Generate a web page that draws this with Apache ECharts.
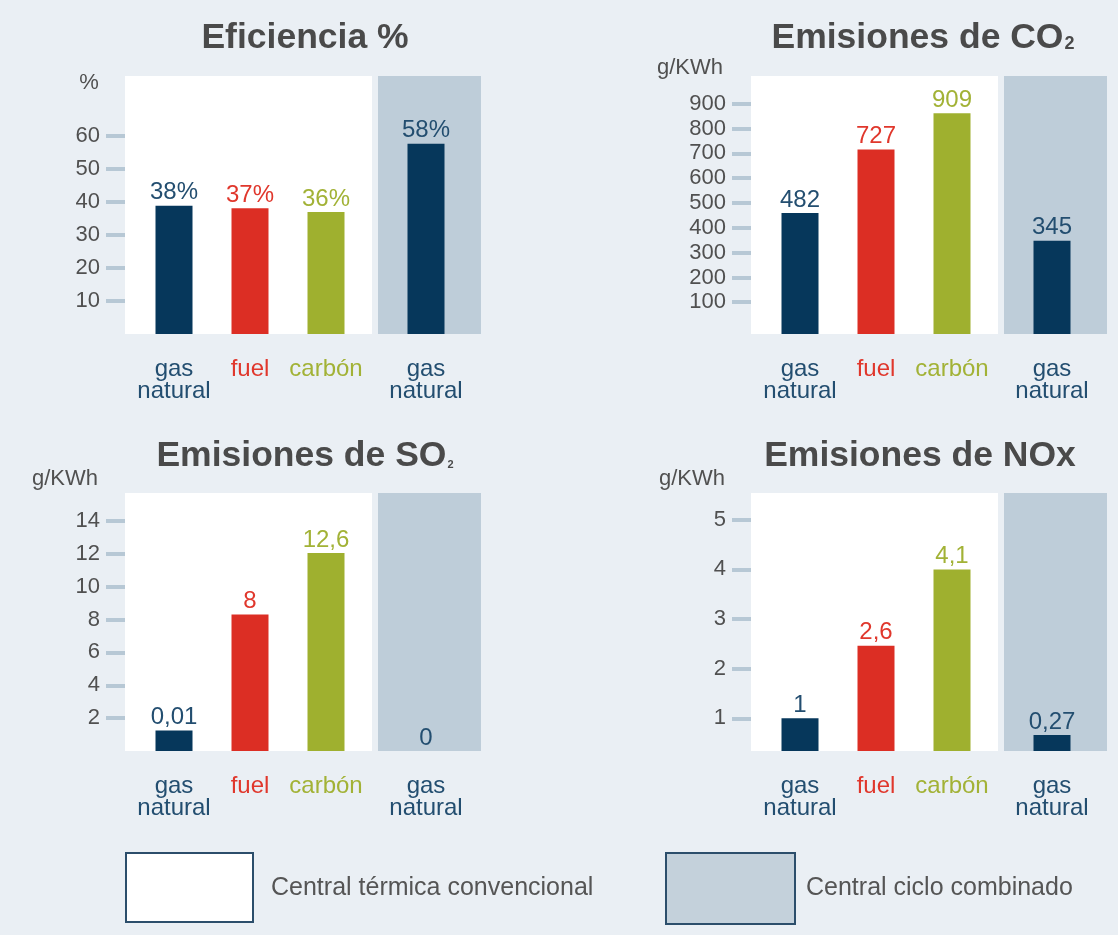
<!DOCTYPE html>
<html>
<head>
<meta charset="utf-8">
<script src="https://cdn.jsdelivr.net/npm/echarts@6/dist/echarts.min.js"></script>
<style>
html,body{margin:0;padding:0;background:#eaeff4;}
#chart{width:1118px;height:935px;}
</style>
</head>
<body>
<div id="chart"></div>
<script>
// ---- data ----
const categories = ['gas\nnatural', 'fuel', 'carbón'];
const combinedCategories = ['gas\nnatural'];

const efficiencyConventional = [38.8, 38.0, 36.9];
const efficiencyCombined = [57.5];
const efficiencyLabels = ['38%', '37%', '36%'];
const efficiencyCombinedLabels = ['58%'];
const efficiencyTicks = [10, 20, 30, 40, 50, 60];

const co2Conventional = [460, 716, 862];
const co2Combined = [348];
const co2Labels = ['482', '727', '909'];
const co2CombinedLabels = ['345'];
const co2Ticks = [100, 200, 300, 400, 500, 600, 700, 800, 900];

const so2Conventional = [1.25, 8.3, 12.05];
const so2Combined = [0];
const so2Labels = ['0,01', '8', '12,6'];
const so2CombinedLabels = ['0'];
const so2Ticks = [2, 4, 6, 8, 10, 12, 14];

const noxConventional = [1.0, 2.46, 4.0];
const noxCombined = [0.66];
const noxLabels = ['1', '2,6', '4,1'];
const noxCombinedLabels = ['0,27'];
const noxTicks = [1, 2, 3, 4, 5];

const legendNames = ['Central térmica convencional', 'Central ciclo combinado'];

// ---- styles ----
const FONT = '"Liberation Sans", Arial, Helvetica, sans-serif';
const barColors = ['#06375b', '#dc2e24', '#9fb02f'];
const textColors = ['#234e70', '#e0372c', '#a2b236'];
const combinedBarColor = '#06375b';
const combinedTextColor = '#234e70';
const greyArea = '#becdd9';

const panels = [
  { conv: efficiencyConventional, comb: efficiencyCombined, labels: efficiencyLabels, combLabels: efficiencyCombinedLabels, ticks: efficiencyTicks, min: 0, max: 78, dx: 0, top: 76 },
  { conv: co2Conventional, comb: co2Combined, labels: co2Labels, combLabels: co2CombinedLabels, ticks: co2Ticks, min: -28, max: 1012, startValue: -28, dx: 626, top: 76 },
  { conv: so2Conventional, comb: so2Combined, labels: so2Labels, combLabels: so2CombinedLabels, ticks: so2Ticks, min: 0, max: 15.7, dx: 0, top: 493 },
  { conv: noxConventional, comb: noxCombined, labels: noxLabels, combLabels: noxCombinedLabels, ticks: noxTicks, min: 0.34, max: 5.54, dx: 626, top: 493 }
];

const grid = [], xAxis = [], yAxis = [], series = [];
const H = 258;

function catColor(value) {
  const i = categories.indexOf(value);
  return i >= 0 ? textColors[i] : combinedTextColor;
}

panels.forEach(function (p) {
  const g0 = grid.length;
  // white background (conventional)
  grid.push({ left: 125 + p.dx, top: p.top, width: 247, height: H, show: true, backgroundColor: '#ffffff', borderWidth: 0 });
  // grey background (combined)
  grid.push({ left: 378 + p.dx, top: p.top, width: 103, height: H, show: true, backgroundColor: greyArea, borderWidth: 0 });
  // data grid conventional
  grid.push({ left: 136 + p.dx, top: p.top, width: 228, height: H, show: false });
  // data grid combined
  grid.push({ left: 388 + p.dx, top: p.top, width: 76, height: H, show: false });

  // axes for background white grid: visible y ticks
  xAxis.push({ gridIndex: g0, type: 'value', show: false });
  yAxis.push({
    gridIndex: g0, type: 'value', min: p.min, max: p.max, position: 'left',
    axisLine: { show: false }, splitLine: { show: false },
    axisTick: { show: true, inside: false, length: 19, customValues: p.ticks, lineStyle: { color: '#b7c8d5', width: 4 } },
    axisLabel: { show: true, customValues: p.ticks, margin: 25, color: '#505050', fontSize: 22, fontFamily: FONT }
  });
  // grey grid axes hidden
  xAxis.push({ gridIndex: g0 + 1, type: 'value', show: false });
  yAxis.push({ gridIndex: g0 + 1, type: 'value', show: false, min: p.min, max: p.max });

  const catAxisLabel = {
    interval: 0, hideOverlap: false,
    margin: 24, fontSize: 24, lineHeight: 22, fontFamily: FONT,
    color: catColor
  };
  // conventional data axes
  xAxis.push({ gridIndex: g0 + 2, type: 'category', data: categories, axisLine: { show: false }, axisTick: { show: false }, axisLabel: catAxisLabel });
  const yc = { gridIndex: g0 + 2, type: 'value', show: false, min: p.min, max: p.max, splitLine: { show: false } };
  if (p.startValue !== undefined) yc.startValue = p.startValue;
  yAxis.push(yc);
  // combined data axes
  xAxis.push({ gridIndex: g0 + 3, type: 'category', data: combinedCategories, axisLine: { show: false }, axisTick: { show: false },
    axisLabel: Object.assign({}, catAxisLabel, { color: combinedTextColor }) });
  const yb = { gridIndex: g0 + 3, type: 'value', show: false, min: p.min, max: p.max, splitLine: { show: false } };
  if (p.startValue !== undefined) yb.startValue = p.startValue;
  yAxis.push(yb);

  const labelBase = { show: true, position: 'top', distance: 1, fontSize: 24, fontFamily: FONT };
  series.push({
    type: 'bar', xAxisIndex: g0 + 2, yAxisIndex: g0 + 2, barWidth: 37, clip: true,
    data: p.conv.map(function (v, i) { return { value: v, itemStyle: { color: barColors[i] }, label: { color: textColors[i] } }; }),
    label: Object.assign({}, labelBase, { formatter: function (q) { return p.labels[q.dataIndex]; } })
  });
  series.push({
    type: 'bar', xAxisIndex: g0 + 3, yAxisIndex: g0 + 3, barWidth: 37, clip: true,
    data: p.comb.map(function (v) { return { value: v, itemStyle: { color: combinedBarColor }, label: { color: combinedTextColor } }; }),
    label: Object.assign({}, labelBase, { formatter: function (q) { return p.combLabels[q.dataIndex]; } })
  });
});

const titleStyle = { fontSize: 35.5, fontWeight: 'bold', color: '#4a4a4a', fontFamily: FONT };
const unitStyle = { fontSize: 22, fontWeight: 'normal', color: '#505050', fontFamily: FONT };

const title = [
  { text: 'Eficiencia %', left: 305, top: 20, textAlign: 'center', padding: 0, textStyle: titleStyle },
  { text: 'Emisiones de CO{sub|2}', left: 923, top: 20, textAlign: 'center', padding: 0,
    textStyle: Object.assign({}, titleStyle, { rich: { sub: { fontSize: 18, fontWeight: 'bold', color: '#4a4a4a', fontFamily: FONT, verticalAlign: 'bottom', lineHeight: 18, padding: [0, 0, 3, 1] } } }) },
  { text: 'Emisiones de SO{sub|2}', left: 305, top: 438, textAlign: 'center', padding: 0,
    textStyle: Object.assign({}, titleStyle, { rich: { sub: { fontSize: 11, fontWeight: 'bold', color: '#4a4a4a', fontFamily: FONT, verticalAlign: 'bottom', lineHeight: 11, padding: [0, 0, 4, 1] } } }) },
  { text: 'Emisiones de NOx', left: 920, top: 438, textAlign: 'center', padding: 0, textStyle: titleStyle },
  { text: '%', left: 89, top: 72, textAlign: 'center', padding: 0, textStyle: unitStyle },
  { text: 'g/KWh', left: 690, top: 57, textAlign: 'center', padding: 0, textStyle: unitStyle },
  { text: 'g/KWh', left: 65, top: 468, textAlign: 'center', padding: 0, textStyle: unitStyle },
  { text: 'g/KWh', left: 692, top: 468, textAlign: 'center', padding: 0, textStyle: unitStyle }
];

const graphic = [
  { type: 'rect', shape: { x: 126, y: 853, width: 127, height: 69 }, style: { fill: '#ffffff', stroke: '#2c4e6b', lineWidth: 2 } },
  { type: 'text', x: 271, y: 888, style: { text: legendNames[0], fontSize: 25, fontFamily: FONT, fill: '#555555', verticalAlign: 'middle', align: 'left' } },
  { type: 'rect', shape: { x: 666, y: 853, width: 129, height: 71 }, style: { fill: '#c4d1db', stroke: '#2c4e6b', lineWidth: 2 } },
  { type: 'text', x: 806, y: 888, style: { text: legendNames[1], fontSize: 25, fontFamily: FONT, fill: '#555555', verticalAlign: 'middle', align: 'left' } }
];

const chart = echarts.init(document.getElementById('chart'), null, { renderer: 'canvas' });
chart.setOption({
  backgroundColor: '#eaeff4',
  animation: false,
  title: title,
  grid: grid,
  xAxis: xAxis,
  yAxis: yAxis,
  series: series,
  graphic: graphic
});
</script>
</body>
</html>
